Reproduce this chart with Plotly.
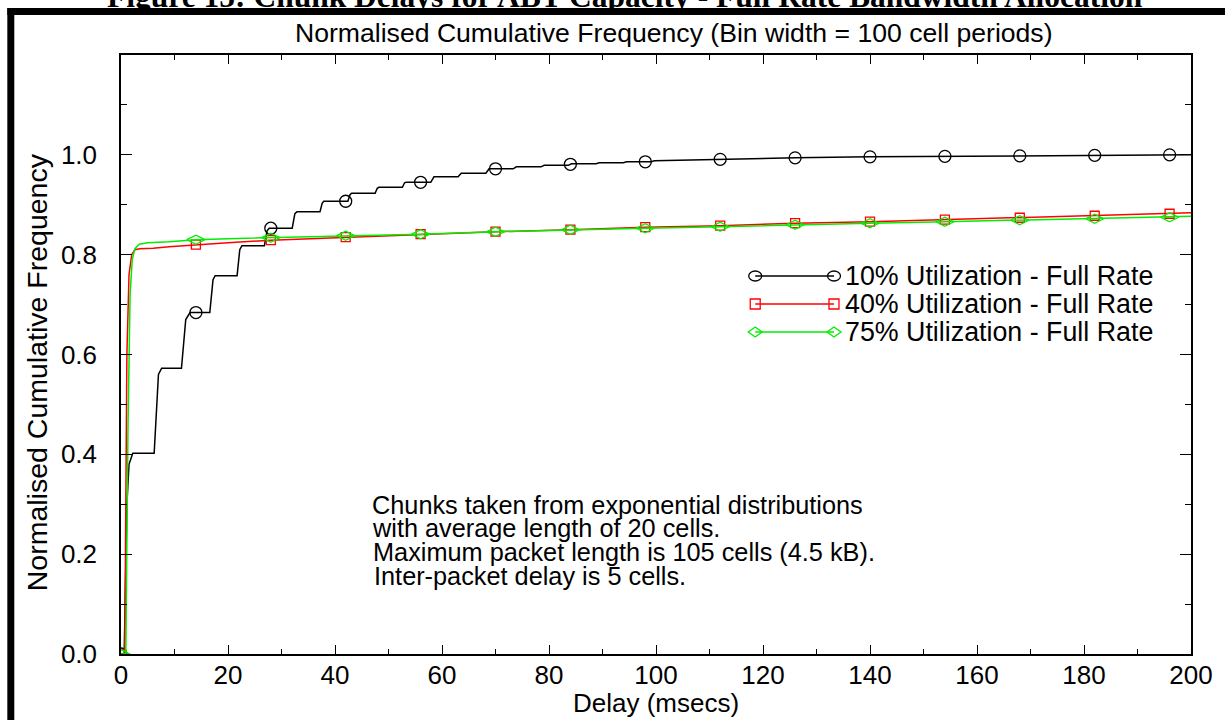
import plotly.graph_objects as go

# ---------------- data ----------------
delay_10 = [0, 0.6, 1.1, 1.5, 2.2,
            6.2, 7.0, 7.6,
            11.3, 12.1, 12.9,
            16.6, 17.2, 17.6,
            21.7, 22.2, 22.6,
            26.8, 27.3, 27.7,
            32.0, 32.5, 32.9,
            37.2, 37.6, 37.9,
            42.4, 42.8, 43.1,
            47.5, 47.9, 48.2,
            52.6, 53.0, 53.3,
            57.9, 58.5,
            63.0, 63.6,
            68.2, 68.8,
            73.3, 73.9,
            78.5, 79.1,
            83.6, 84.2,
            88.8, 89.4,
            93.9, 94.5,
            99.1, 99.7,
            112, 126, 140, 154, 168, 182, 196, 200]
freq_10 = [0, 0, 0.30, 0.38, 0.402,
           0.402, 0.560, 0.5725,
           0.5725, 0.670, 0.684,
           0.684, 0.750, 0.758,
           0.758, 0.810, 0.818,
           0.818, 0.848, 0.853,
           0.853, 0.882, 0.886,
           0.886, 0.903, 0.907,
           0.907, 0.920, 0.923,
           0.923, 0.933, 0.935,
           0.935, 0.944, 0.945,
           0.945, 0.956,
           0.956, 0.963,
           0.963, 0.972,
           0.972, 0.976,
           0.976, 0.979,
           0.979, 0.982,
           0.982, 0.984,
           0.984, 0.986,
           0.986, 0.988,
           0.991, 0.994, 0.996, 0.997, 0.998, 0.999, 1.0, 1.0]

delay_40 = [0, 0.7, 1.1, 1.5, 2.0, 2.6, 3.5, 6, 9, 14, 20, 28, 42, 56, 70, 84,
            98, 112, 126, 140, 154, 168, 182, 196, 200]
freq_40 = [0, 0, 0.60, 0.76, 0.80, 0.810, 0.812, 0.813, 0.816, 0.820, 0.824,
           0.829, 0.835, 0.841, 0.846, 0.850, 0.855, 0.858, 0.863, 0.866,
           0.870, 0.874, 0.878, 0.882, 0.884]

delay_75 = [0, 0.9, 1.3, 1.7, 2.1, 2.6, 3.4, 5, 9, 14, 20, 28, 42, 56, 70, 84,
            98, 112, 126, 140, 154, 168, 182, 196, 200]
freq_75 = [0, 0, 0.45, 0.72, 0.79, 0.812, 0.821, 0.824, 0.826, 0.830, 0.832,
           0.834, 0.838, 0.841, 0.846, 0.850, 0.853, 0.856, 0.860, 0.863,
           0.866, 0.869, 0.872, 0.875, 0.877]

marker_delay = [0, 14, 28, 42, 56, 70, 84, 98, 112, 126, 140, 154, 168, 182, 196]
marker_10 = [0, 0.684, 0.853, 0.907, 0.945, 0.972, 0.981, 0.986, 0.991, 0.994,
             0.996, 0.997, 0.998, 0.999, 1.0]
marker_40 = [0, 0.820, 0.829, 0.835, 0.841, 0.846, 0.850, 0.855, 0.858, 0.863,
             0.866, 0.870, 0.874, 0.878, 0.882]
marker_75 = [0, 0.830, 0.834, 0.838, 0.841, 0.846, 0.850, 0.853, 0.856, 0.860,
             0.863, 0.866, 0.869, 0.872, 0.875]

series_names = ["10% Utilization - Full Rate",
                "40% Utilization - Full Rate",
                "75% Utilization - Full Rate"]
note_lines = ["Chunks taken from exponential distributions",
              "with average length of 20 cells.",
              "Maximum packet length is 105 cells (4.5 kB).",
              "Inter-packet delay is 5 cells."]
x_ticks = [0, 20, 40, 60, 80, 100, 120, 140, 160, 180, 200]
y_ticks = [0.0, 0.2, 0.4, 0.6, 0.8, 1.0]

# ---------------- layout helpers ----------------
W, H = 1225, 720
L, R, T, B = 121, 1194, 55, 654   # plot area in screen pixels
def px(x): return (x - L) / (R - L)
def py(y): return (B - y) / (B - T)

FONT = "Liberation Sans, Arial, Helvetica, sans-serif"
BLACK, RED, GREEN = "#000000", "#ff0000", "#00ee00"

fig = go.Figure()
styles = [
    (delay_10, freq_10, marker_10, BLACK, "circle-open", 12),
    (delay_40, freq_40, marker_40, RED, "square-open", 9),
    (delay_75, freq_75, marker_75, GREEN, "diamond-wide-open", 13),
]
for (dx, fy, my, col, sym, sz), name in zip(styles, series_names):
    fig.add_trace(go.Scatter(x=dx, y=fy, mode="lines", name=name,
                             line=dict(color=col, width=1.5),
                             showlegend=False, hoverinfo="skip"))
    fig.add_trace(go.Scatter(x=marker_delay, y=my, mode="markers", name=name,
                             marker=dict(symbol=sym, size=sz, color=col,
                                         line=dict(color=col, width=1.3)),
                             showlegend=False, hoverinfo="skip"))

shapes = []
# outer thick frame (top bar + left bar)
shapes.append(dict(type="rect", xref="paper", yref="paper",
                   x0=px(7), x1=px(1240), y0=py(15), y1=py(8),
                   fillcolor="black", line=dict(width=0)))
shapes.append(dict(type="rect", xref="paper", yref="paper",
                   x0=px(7), x1=px(14), y0=py(740), y1=py(8),
                   fillcolor="black", line=dict(width=0)))

# manual legend (line sample with a marker at each end)
annotations = []
leg_rows = [276, 304, 332]
lx0, lx1 = 757, 836
for (dx, fy, my, col, sym, sz), name, ry in zip(styles, series_names, leg_rows):
    shapes.append(dict(type="line", xref="paper", yref="paper",
                       x0=px(lx0), x1=px(lx1), y0=py(ry), y1=py(ry),
                       line=dict(color=col, width=1.5)))
    for cx in (lx0, lx1):
        if sym.startswith("circle"):
            shapes.append(dict(type="circle", xref="paper", yref="paper",
                               x0=px(cx - 6.5), x1=px(cx + 6.5),
                               y0=py(ry + 5), y1=py(ry - 5),
                               line=dict(color=col, width=1.3)))
        elif sym.startswith("square"):
            shapes.append(dict(type="rect", xref="paper", yref="paper",
                               x0=px(cx - 5), x1=px(cx + 5),
                               y0=py(ry + 5), y1=py(ry - 5),
                               line=dict(color=col, width=1.3)))
        else:
            path = "M {a},{b} L {c},{d} L {e},{f} L {g},{h} Z".format(
                a=px(cx - 7), b=py(ry), c=px(cx), d=py(ry - 5),
                e=px(cx + 7), f=py(ry), g=px(cx), h=py(ry + 5))
            shapes.append(dict(type="path", xref="paper", yref="paper",
                               path=path, line=dict(color=col, width=1.3)))
    annotations.append(dict(xref="paper", yref="paper", x=px(845), y=py(ry),
                            xanchor="left", yanchor="middle", showarrow=False,
                            text=name, font=dict(family=FONT, size=26.8, color="black")))

# note text
note_pos = [(371, 505), (371, 528), (372, 552), (373, 576)]
for line, (nx, ny) in zip(note_lines, note_pos):
    annotations.append(dict(xref="paper", yref="paper", x=px(nx), y=py(ny),
                            xanchor="left", yanchor="middle", showarrow=False,
                            text=line, font=dict(family=FONT, size=25.3, color="black")))

# titles
annotations.append(dict(xref="paper", yref="paper", x=px(676), y=py(33),
                        xanchor="center", yanchor="middle", showarrow=False,
                        text="Normalised Cumulative Frequency (Bin width = 100 cell periods)",
                        font=dict(family=FONT, size=26.6, color="black")))
annotations.append(dict(xref="paper", yref="paper", x=px(658), y=py(703),
                        xanchor="center", yanchor="middle", showarrow=False,
                        text="Delay (msecs)",
                        font=dict(family=FONT, size=26, color="black")))
annotations.append(dict(xref="paper", yref="paper", x=px(37), y=py(372),
                        xanchor="center", yanchor="middle", showarrow=False,
                        textangle=-90, text="Normalised Cumulative Frequency",
                        font=dict(family=FONT, size=28.5, color="black")))
annotations.append(dict(xref="paper", yref="paper", x=px(626), y=py(-3),
                        xanchor="center", yanchor="middle", showarrow=False,
                        text="<b>Figure 15: Chunk Delays for ABT Capacity - Full Rate Bandwidth Allocation</b>",
                        font=dict(family="Liberation Serif, Times New Roman, serif",
                                  size=31.5, color="black")))

axis_common = dict(showgrid=False, zeroline=False, showline=True, linecolor="black",
                   linewidth=1.5, mirror="allticks", ticks="inside",
                   tickcolor="black", tickwidth=1.3,
                   tickfont=dict(family=FONT, size=26, color="black"))

fig.update_layout(
    width=W, height=H,
    margin=dict(l=L, r=W - R, t=T, b=H - B, pad=0),
    paper_bgcolor="white", plot_bgcolor="white",
    showlegend=False,
    shapes=shapes, annotations=annotations,
    xaxis=dict(range=[0, 200], tickmode="array", tickvals=x_ticks,
               ticktext=[str(v) for v in x_ticks], ticklen=9,
               ticklabelstandoff=-3,
               minor=dict(tickmode="linear", tick0=0, dtick=10, ticks="inside",
                          ticklen=5, tickcolor="black", tickwidth=1.3),
               **axis_common),
    yaxis=dict(range=[0, 1.2], tickmode="array", tickvals=y_ticks,
               ticktext=["%.1f" % v for v in y_ticks], ticklen=11,
               ticklabelstandoff=17,
               minor=dict(tickmode="linear", tick0=0, dtick=0.1, ticks="inside",
                          ticklen=6, tickcolor="black", tickwidth=1.3),
               **axis_common),
)

fig.write_html("out.html",
               config={"displayModeBar": False},
               post_script="document.body.style.margin='0px';")
